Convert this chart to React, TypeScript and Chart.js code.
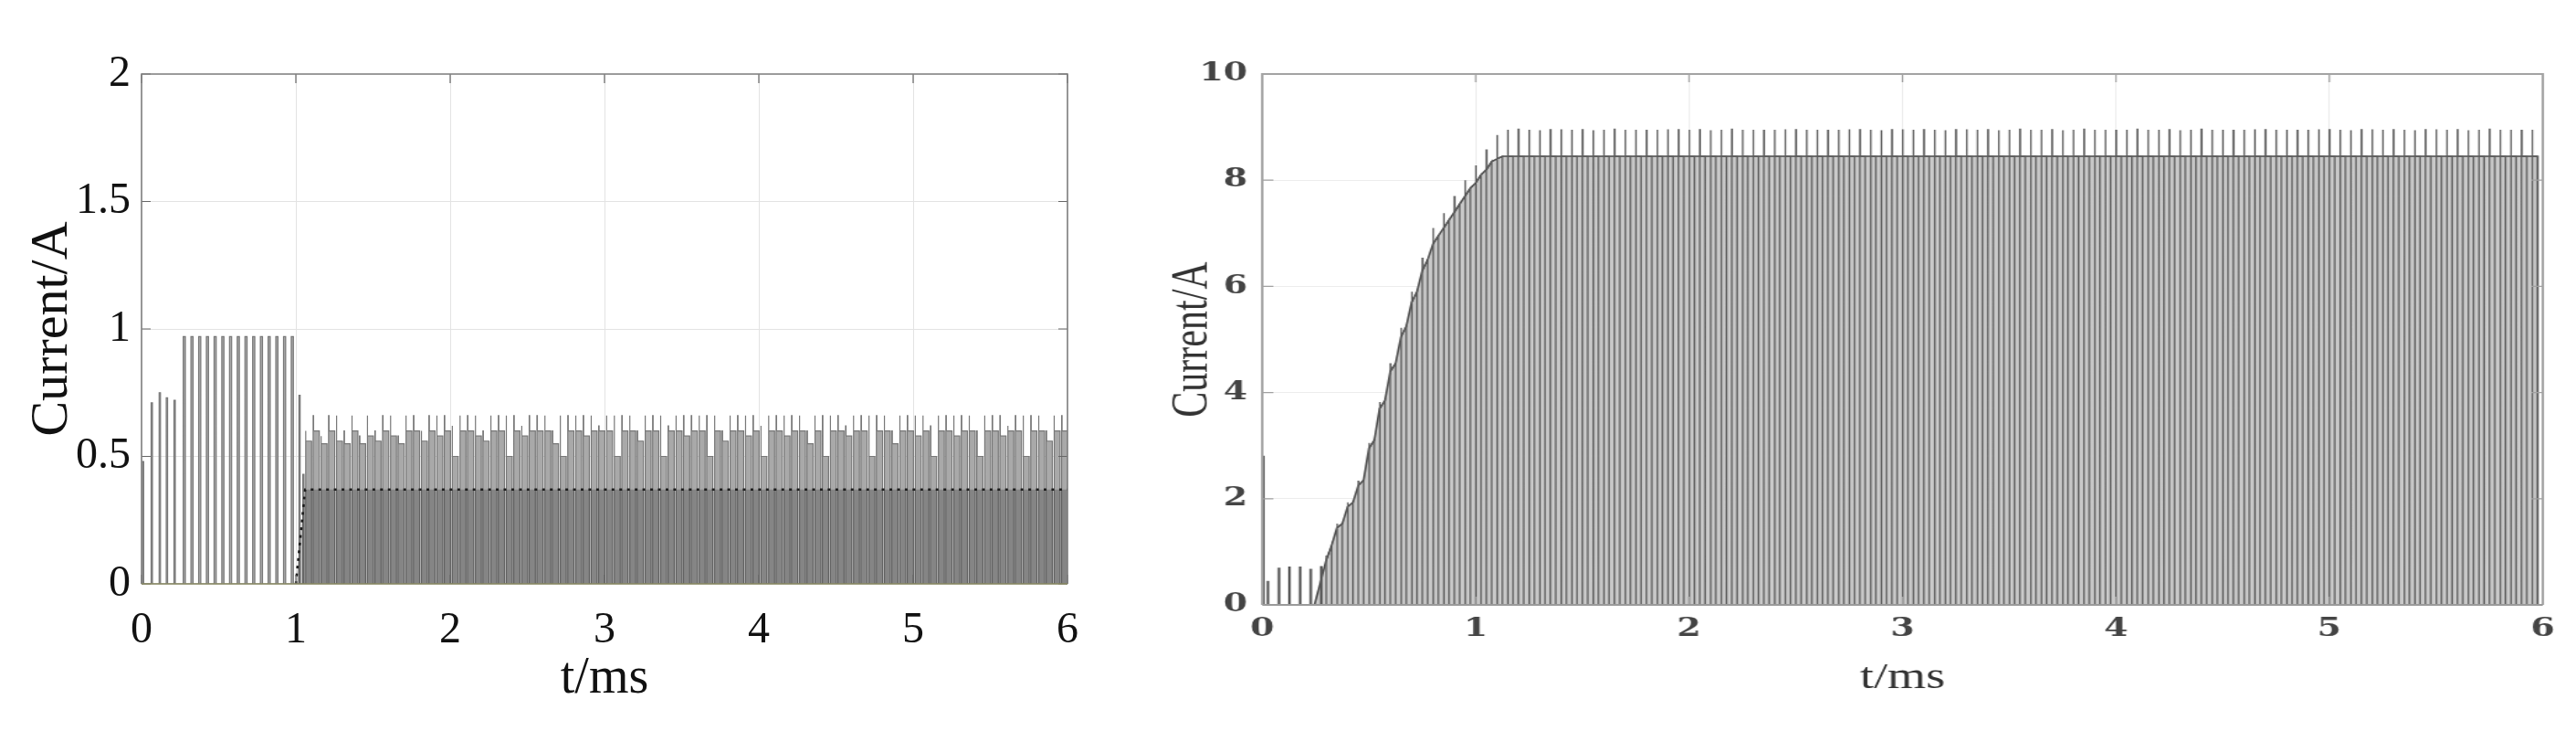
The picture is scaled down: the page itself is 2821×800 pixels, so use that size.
import { useEffect, useRef } from 'react';
import { Chart, registerables } from 'chart.js';

Chart.register(...registerables);

// ---------- shared ----------
const PWM_PERIOD_MS = 0.05;
const X_TICKS = [0, 1, 2, 3, 4, 5, 6];
const LEFT_Y_TICKS = [0, 0.5, 1, 1.5, 2];
const RIGHT_Y_TICKS = [0, 2, 4, 6, 8, 10];

// ---------- left chart (values in A, times in ms) ----------
const leftStartTimes = [0.005, 0.062, 0.114, 0.16, 0.21];
const leftStartPeaks = [0.48, 0.71, 0.75, 0.73, 0.72];
const leftBoostTimes = [0.27, 0.32, 0.37, 0.42, 0.47, 0.52, 0.57, 0.62, 0.67, 0.72, 0.77, 0.82, 0.87, 0.92, 0.97];
const leftBoostPeaks = [0.97, 0.97, 0.97, 0.97, 0.97, 0.97, 0.97, 0.97, 0.97, 0.97, 0.97, 0.97, 0.97, 0.97, 0.97];
const leftTransitionTimes = [1.02, 1.045];
const leftTransitionPeaks = [0.74, 0.43];
const LEFT_STEADY_START = 1.062;
const leftSteadyPeak = [
  0.60, 0.66, 0.58, 0.66, 0.66, 0.60, 0.66, 0.58, 0.66, 0.60,
  0.66, 0.66, 0.58, 0.66, 0.66, 0.60, 0.66, 0.66, 0.66, 0.62,
  0.66, 0.66, 0.66, 0.60, 0.66, 0.66, 0.66, 0.66, 0.62, 0.66,
  0.66, 0.66, 0.60, 0.66, 0.66, 0.66, 0.66, 0.66, 0.62, 0.66,
  0.66, 0.66, 0.66, 0.60, 0.66, 0.66, 0.66, 0.62, 0.66, 0.66,
  0.66, 0.66, 0.66, 0.66, 0.60, 0.66, 0.66, 0.66, 0.66, 0.62,
  0.66, 0.66, 0.66, 0.66, 0.66, 0.60, 0.66, 0.66, 0.66, 0.66,
  0.62, 0.66, 0.66, 0.66, 0.66, 0.66, 0.60, 0.66, 0.66, 0.66,
  0.66, 0.62, 0.66, 0.66, 0.66, 0.66, 0.66, 0.60, 0.66, 0.66,
  0.66, 0.62, 0.66, 0.66, 0.66, 0.66, 0.60, 0.66, 0.66,
];
const leftSteadyShoulder = [
  0.56, 0.60, 0.55, 0.60, 0.56, 0.55, 0.60, 0.55, 0.58, 0.56,
  0.60, 0.58, 0.55, 0.60, 0.60, 0.56, 0.60, 0.58, 0.60, 0.50,
  0.60, 0.60, 0.58, 0.56, 0.60, 0.60, 0.50, 0.60, 0.58, 0.60,
  0.60, 0.60, 0.55, 0.50, 0.60, 0.60, 0.58, 0.60, 0.60, 0.60,
  0.50, 0.60, 0.60, 0.56, 0.60, 0.60, 0.50, 0.60, 0.60, 0.58,
  0.60, 0.60, 0.50, 0.60, 0.56, 0.60, 0.60, 0.58, 0.60, 0.50,
  0.60, 0.60, 0.58, 0.60, 0.60, 0.55, 0.60, 0.50, 0.60, 0.60,
  0.58, 0.60, 0.60, 0.50, 0.60, 0.60, 0.55, 0.60, 0.60, 0.58,
  0.60, 0.50, 0.60, 0.60, 0.58, 0.60, 0.60, 0.50, 0.60, 0.60,
  0.58, 0.60, 0.60, 0.50, 0.60, 0.60, 0.56, 0.60, 0.60,
];
const leftBaseTimes = [1.0, 1.06, 6.0];
const leftBaseLevels = [0, 0.37, 0.37];

// ---------- right chart ----------
const rightStartTimes = [0.003, 0.024, 0.076, 0.125, 0.175, 0.225, 0.274];
const rightStartPeaks = [2.8, 0.44, 0.69, 0.71, 0.71, 0.67, 0.72];
const RIGHT_RAMP_START = 0.245;
const RIGHT_TRAIN_START = 0.3;
const rightRisePeak = [
  0.92, 1.53, 1.93, 2.33, 3.05, 3.82, 4.54, 5.22, 5.90, 6.53, 7.10, 7.38, 7.69, 8.00, 8.28, 8.57, 8.85,
  8.95, 8.96, 8.95, 8.94, 8.95, 8.96, 8.95, 8.95, 8.94, 8.95,
  8.96, 8.95, 8.95, 8.94, 8.95, 8.96, 8.95, 8.95, 8.95, 8.94,
  8.95, 8.96, 8.95, 8.95, 8.94, 8.95, 8.96, 8.95, 8.95, 8.95,
  8.94, 8.95, 8.96, 8.95, 8.95, 8.94, 8.95, 8.96, 8.95, 8.95,
  8.95, 8.94, 8.95, 8.96, 8.95, 8.95, 8.94, 8.95, 8.96, 8.95,
  8.95, 8.95, 8.94, 8.95, 8.96, 8.95, 8.95, 8.94, 8.95, 8.96,
  8.95, 8.95, 8.95, 8.94, 8.95, 8.96, 8.95, 8.95, 8.94, 8.95,
  8.96, 8.95, 8.95, 8.95, 8.94, 8.95, 8.96, 8.95, 8.95, 8.94,
  8.95, 8.96, 8.95, 8.95, 8.95, 8.94, 8.95, 8.96, 8.95, 8.95,
  8.94, 8.95, 8.96, 8.95, 8.95, 8.94, 8.95,
];
const rightPlateau = [
  0.85, 1.45, 1.85, 2.25, 2.95, 3.70, 4.40, 5.05, 5.70, 6.30, 6.80, 7.10, 7.40, 7.70, 7.95, 8.20, 8.40,
  8.45, 8.45, 8.45, 8.45, 8.45, 8.45, 8.45, 8.45, 8.45, 8.45,
  8.45, 8.45, 8.45, 8.45, 8.45, 8.45, 8.45, 8.45, 8.45, 8.45,
  8.45, 8.45, 8.45, 8.45, 8.45, 8.45, 8.45, 8.45, 8.45, 8.45,
  8.45, 8.45, 8.45, 8.45, 8.45, 8.45, 8.45, 8.45, 8.45, 8.45,
  8.45, 8.45, 8.45, 8.45, 8.45, 8.45, 8.45, 8.45, 8.45, 8.45,
  8.45, 8.45, 8.45, 8.45, 8.45, 8.45, 8.45, 8.45, 8.45, 8.45,
  8.45, 8.45, 8.45, 8.45, 8.45, 8.45, 8.45, 8.45, 8.45, 8.45,
  8.45, 8.45, 8.45, 8.45, 8.45, 8.45, 8.45, 8.45, 8.45, 8.45,
  8.45, 8.45, 8.45, 8.45, 8.45, 8.45, 8.45, 8.45, 8.45, 8.45,
  8.45, 8.45, 8.45, 8.45, 8.45, 8.45, 8.45,
];
const rightFallLevel = [
  1.12, 1.53, 1.93, 2.35, 3.10, 3.85, 4.55, 5.25, 5.90, 6.50, 6.95, 7.25, 7.55, 7.85, 8.10, 8.35, 8.45,
  8.45, 8.45, 8.45, 8.45, 8.45, 8.45, 8.45, 8.45, 8.45, 8.45,
  8.45, 8.45, 8.45, 8.45, 8.45, 8.45, 8.45, 8.45, 8.45, 8.45,
  8.45, 8.45, 8.45, 8.45, 8.45, 8.45, 8.45, 8.45, 8.45, 8.45,
  8.45, 8.45, 8.45, 8.45, 8.45, 8.45, 8.45, 8.45, 8.45, 8.45,
  8.45, 8.45, 8.45, 8.45, 8.45, 8.45, 8.45, 8.45, 8.45, 8.45,
  8.45, 8.45, 8.45, 8.45, 8.45, 8.45, 8.45, 8.45, 8.45, 8.45,
  8.45, 8.45, 8.45, 8.45, 8.45, 8.45, 8.45, 8.45, 8.45, 8.45,
  8.45, 8.45, 8.45, 8.45, 8.45, 8.45, 8.45, 8.45, 8.45, 8.45,
  8.45, 8.45, 8.45, 8.45, 8.45, 8.45, 8.45, 8.45, 8.45, 8.45,
  8.45, 8.45, 8.45, 8.45, 8.45, 8.45, 8.45,
];

// ---------- builders ----------
type Pt = { x: number; y: number };

function spikeTrain(times: number[], peaks: number[], width: number): Pt[] {
  const pts: Pt[] = [];
  times.forEach((t, i) => {
    pts.push({ x: t, y: 0 }, { x: t, y: peaks[i] }, { x: t + width, y: peaks[i] }, { x: t + width, y: 0 });
  });
  return pts;
}

const LEFT_ON_MS = 0.04;

function buildLeftPulses(): Pt[] {
  const pts: Pt[] = [{ x: 0, y: 0 }];
  pts.push(...spikeTrain(leftStartTimes, leftStartPeaks, 0.009));
  pts.push(...spikeTrain(leftBoostTimes, leftBoostPeaks, 0.014));
  pts.push(...spikeTrain(leftTransitionTimes, leftTransitionPeaks, 0.008));
  leftSteadyPeak.forEach((peak, k) => {
    const t = LEFT_STEADY_START + k * PWM_PERIOD_MS;
    const sh = leftSteadyShoulder[k];
    pts.push(
      { x: t, y: 0 },
      { x: t, y: peak },
      { x: t + 0.003, y: peak },
      { x: t + 0.003, y: sh },
      { x: t + LEFT_ON_MS, y: sh },
      { x: t + LEFT_ON_MS, y: 0 },
    );
  });
  return pts;
}

function buildLeftBase(): Pt[] {
  return leftBaseTimes.map((t, i) => ({ x: t, y: leftBaseLevels[i] }));
}

const RIGHT_ON_MS = 0.025;

function buildRightEdges(): Pt[] {
  const pts: Pt[] = [{ x: 0, y: 0 }];
  pts.push(...spikeTrain(rightStartTimes, rightStartPeaks, 0.005));
  rightRisePeak.forEach((rise, k) => {
    const t = RIGHT_TRAIN_START + k * PWM_PERIOD_MS;
    pts.push(
      { x: t, y: 0 },
      { x: t, y: rise },
      { x: t + 0.002, y: rise },
      { x: t + 0.002, y: rightPlateau[k] },
      { x: t + RIGHT_ON_MS, y: rightFallLevel[k] },
      { x: t + RIGHT_ON_MS, y: 0 },
    );
  });
  return pts;
}

function buildRightEnvelope(): Pt[] {
  const pts: Pt[] = [{ x: RIGHT_RAMP_START, y: 0 }];
  rightPlateau.forEach((p, k) => {
    const t = RIGHT_TRAIN_START + k * PWM_PERIOD_MS;
    pts.push({ x: t, y: p }, { x: t + RIGHT_ON_MS, y: rightFallLevel[k] });
  });
  const last = RIGHT_TRAIN_START + (rightPlateau.length - 1) * PWM_PERIOD_MS + RIGHT_ON_MS;
  pts.push({ x: last, y: 0 });
  return pts;
}

// ---------- plugin: MATLAB-like box with inward ticks ----------
const boxPlugin = {
  id: 'mbox',
  afterDatasetsDraw(chart: any, _args: any, opts: any) {
    const { ctx, chartArea: a, scales } = chart;
    ctx.save();
    ctx.strokeStyle = opts.tickColor;
    ctx.lineWidth = opts.tickWidth;
    const L = opts.tickLen;
    ctx.beginPath();
    scales.x.ticks.forEach((t: any) => {
      const px = scales.x.getPixelForValue(t.value);
      ctx.moveTo(px, a.bottom); ctx.lineTo(px, a.bottom - L);
      ctx.moveTo(px, a.top); ctx.lineTo(px, a.top + L);
    });
    scales.y.ticks.forEach((t: any) => {
      const py = scales.y.getPixelForValue(t.value);
      ctx.moveTo(a.left, py); ctx.lineTo(a.left + L, py);
      ctx.moveTo(a.right, py); ctx.lineTo(a.right - L, py);
    });
    ctx.stroke();
    ctx.strokeStyle = opts.color;
    ctx.lineWidth = opts.width;
    ctx.beginPath();
    ctx.moveTo(a.left, a.bottom); ctx.lineTo(a.left, a.top); ctx.lineTo(a.right, a.top); ctx.lineTo(a.right, a.bottom);
    ctx.stroke();
    ctx.strokeStyle = opts.bottomColor;
    ctx.beginPath();
    ctx.moveTo(a.left, a.bottom); ctx.lineTo(a.right, a.bottom);
    ctx.stroke();
    ctx.restore();
  },
};

const SERIF = "'Liberation Serif', 'Times New Roman', serif";
const plainLabel = (v: any) => String(v);

function makeLeftConfig(): any {
  return {
    type: 'line',
    data: {
      datasets: [
        {
          label: 'base',
          data: buildLeftBase(),
          order: 0,
          borderColor: '#1c1c1c',
          borderWidth: 2.6,
          borderDash: [3, 5.45],
          backgroundColor: 'rgba(50,50,50,0.3)',
          fill: 'origin',
          pointRadius: 0,
          tension: 0,
        },
        {
          label: 'pulses',
          data: buildLeftPulses(),
          order: 1,
          borderColor: '#787878',
          borderWidth: 1.2,
          backgroundColor: '#a9a9a9',
          fill: 'origin',
          pointRadius: 0,
          tension: 0,
        },
      ],
    },
    options: {
      animation: false,
      responsive: false,
      layout: { padding: { left: 0, top: 81, right: 81, bottom: 0 } },
      plugins: {
        legend: { display: false },
        tooltip: { enabled: false },
        mbox: { color: '#808080', width: 1.6, bottomColor: '#8a8a62', tickColor: '#666', tickWidth: 1.2, tickLen: 10 },
      },
      scales: {
        x: {
          type: 'linear',
          min: 0,
          max: 6,
          afterBuildTicks: (s: any) => { s.ticks = X_TICKS.map((v) => ({ value: v })); },
          afterFit: (s: any) => { s.height = 161; },
          grid: { color: '#e3e3e3', lineWidth: 1, drawTicks: false },
          border: { display: false },
          ticks: { callback: plainLabel, padding: 27, color: '#111', maxRotation: 0, autoSkip: false, font: { family: SERIF, size: 48, lineHeight: 1 } },
          title: { display: true, text: 't/ms', color: '#111', padding: { top: 0, bottom: 29 }, font: { family: SERIF, size: 56, lineHeight: 1 } },
        },
        y: {
          type: 'linear',
          min: 0,
          max: 2,
          afterBuildTicks: (s: any) => { s.ticks = LEFT_Y_TICKS.map((v) => ({ value: v })); },
          afterFit: (s: any) => { s.width = 155; },
          grid: { color: '#e3e3e3', lineWidth: 1, drawTicks: false },
          border: { display: false },
          ticks: { callback: plainLabel, padding: 12, color: '#111', autoSkip: false, font: { family: SERIF, size: 48, lineHeight: 1 } },
          title: { display: true, text: 'Current/A', color: '#111', padding: { top: 29, bottom: 0 }, font: { family: SERIF, size: 58, lineHeight: 1 } },
        },
      },
    },
    plugins: [boxPlugin],
  };
}

const RIGHT_STRETCH = 1.3497;
const RIGHT_W = 1164;
const RIGHT_TICK_FONT = { family: "'DejaVu Serif', serif", size: 28, weight: 'bold', lineHeight: 1 };

function makeRightConfig(): any {
  return {
    type: 'line',
    data: {
      datasets: [
        {
          label: 'edges',
          data: buildRightEdges(),
          order: 0,
          borderColor: '#5c5c5c',
          borderWidth: 1.3,
          fill: false,
          pointRadius: 0,
          tension: 0,
        },
        {
          label: 'envelope',
          data: buildRightEnvelope(),
          order: 1,
          borderColor: '#4a4a4a',
          borderWidth: 1.6,
          backgroundColor: '#c9c9c9',
          fill: 'origin',
          pointRadius: 0,
          tension: 0,
        },
      ],
    },
    options: {
      animation: false,
      responsive: false,
      layout: { padding: { left: 0, top: 81, right: 27, bottom: 0 } },
      plugins: {
        legend: { display: false },
        tooltip: { enabled: false },
        mbox: { color: '#a3a3a3', width: 2, bottomColor: '#9a9a9a', tickColor: '#a0a0a0', tickWidth: 1.2, tickLen: 9 },
      },
      scales: {
        x: {
          type: 'linear',
          min: 0,
          max: 6,
          afterBuildTicks: (s: any) => { s.ticks = X_TICKS.map((v) => ({ value: v })); },
          afterFit: (s: any) => { s.height = 138; },
          grid: { color: '#ececec', lineWidth: 1, drawTicks: false },
          border: { display: false },
          ticks: { callback: plainLabel, padding: 13, color: '#444', maxRotation: 0, autoSkip: false, font: RIGHT_TICK_FONT },
          title: { display: true, text: 't/ms', color: '#333', padding: { top: 0, bottom: 38 }, font: { family: SERIF, size: 40, lineHeight: 1 } },
        },
        y: {
          type: 'linear',
          min: 0,
          max: 10,
          afterBuildTicks: (s: any) => { s.ticks = RIGHT_Y_TICKS.map((v) => ({ value: v })); },
          afterFit: (s: any) => { s.width = 98; },
          grid: { color: '#ececec', lineWidth: 1, drawTicks: false },
          border: { display: false },
          ticks: { callback: plainLabel, padding: 12, color: '#444', autoSkip: false, font: RIGHT_TICK_FONT },
          title: { display: true, text: 'Current/A', color: '#333', padding: { top: 21, bottom: 0 }, font: { family: SERIF, size: 42, lineHeight: 1 } },
        },
      },
    },
    plugins: [boxPlugin],
  };
}

function ChartCanvas(props: { make: () => any; width: number; height: number; style: any }) {
  const ref = useRef<HTMLCanvasElement | null>(null);
  useEffect(() => {
    if (!ref.current) return;
    const chart = new Chart(ref.current, props.make());
    return () => chart.destroy();
  }, []);
  return <canvas ref={ref} width={props.width} height={props.height} style={props.style} />;
}

export default function App() {
  return (
    <div style={{ position: 'absolute', left: 0, top: 0, width: 2821, height: 800, background: '#fff', overflow: 'hidden' }}>
      <ChartCanvas
        make={makeLeftConfig}
        width={1250}
        height={800}
        style={{ position: 'absolute', left: 0, top: 0, width: 1250, height: 800 }}
      />
      <ChartCanvas
        make={makeRightConfig}
        width={RIGHT_W}
        height={800}
        style={{ position: 'absolute', left: 1250, top: 0, width: RIGHT_W, height: 800, transform: `scaleX(${RIGHT_STRETCH})`, transformOrigin: '0 0' }}
      />
    </div>
  );
}
